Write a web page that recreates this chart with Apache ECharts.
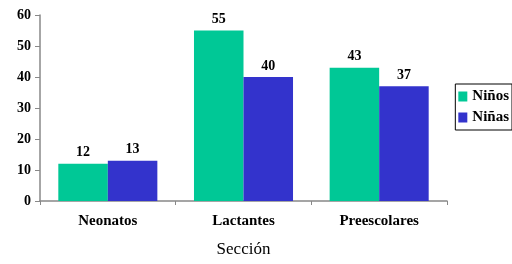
<!DOCTYPE html>
<html>
<head>
<meta charset="utf-8">
<script src="https://cdn.jsdelivr.net/npm/echarts@6/dist/echarts.min.js"></script>
<style>
  html, body { margin: 0; padding: 0; background: #fff; }
  #chart { width: 512px; height: 264px; }
</style>
</head>
<body>
<div id="chart"></div>
<script>
const categories = ["Neonatos", "Lactantes", "Preescolares"];
const ninos = [12, 55, 43];
const ninas = [13, 40, 37];
const yTicks = [0, 10, 20, 30, 40, 50, 60];

const font = "'Liberation Serif', 'DejaVu Serif', serif";
const legendText = {fontFamily: font, fontWeight: "bold", fontSize: 15, color: "#000"};

const chart = echarts.init(document.getElementById("chart"), null, {renderer: "canvas"});

function barSeries(name, data, color) {
    return {
        name: name,
        type: "bar",
        data: data,
        barGap: "0%",
        barCategoryGap: "27%",
        itemStyle: {color: color},
        label: {
            show: true,
            position: "top",
            distance: 4,
            color: "#000",
            fontFamily: font,
            fontWeight: "bold",
            fontSize: 14
        }
    };
}

chart.setOption({
    animation: false,
    grid: {left: 40, right: 65, top: 15, bottom: 63},
    legend: {
        orient: "vertical",
        right: 0,
        top: 84,
        padding: [5, 3, 5, 3],
        itemGap: 6,
        itemWidth: 9,
        itemHeight: 10,
        borderColor: "#000",
        borderWidth: 1,
        backgroundColor: "#fff",
        icon: "rect",
        textStyle: legendText,
        data: [
            {name: "Niños", textStyle: legendText},
            {name: "Niñas", textStyle: legendText}
        ]
    },
    xAxis: {
        type: "category",
        data: categories,
        name: "Sección",
        nameLocation: "middle",
        nameGap: 40,
        nameTextStyle: {fontFamily: font, fontSize: 17, color: "#000"},
        axisLine: {lineStyle: {color: "#888", width: 1.5}},
        axisTick: {show: true, alignWithLabel: false, length: 4, lineStyle: {color: "#888"}},
        axisLabel: {fontFamily: font, fontWeight: "bold", fontSize: 15, color: "#000", margin: 13}
    },
    yAxis: {
        type: "value",
        min: yTicks[0],
        max: yTicks[yTicks.length - 1],
        interval: 10,
        splitLine: {show: false},
        axisLine: {show: true, lineStyle: {color: "#888", width: 1.5}},
        axisTick: {show: true, length: 5, lineStyle: {color: "#888"}},
        axisLabel: {fontFamily: font, fontWeight: "bold", fontSize: 14, color: "#000", margin: 9}
    },
    series: [
        barSeries("Niños", ninos, "#00c896"),
        barSeries("Niñas", ninas, "#3333cc")
    ]
});
</script>
</body>
</html>
